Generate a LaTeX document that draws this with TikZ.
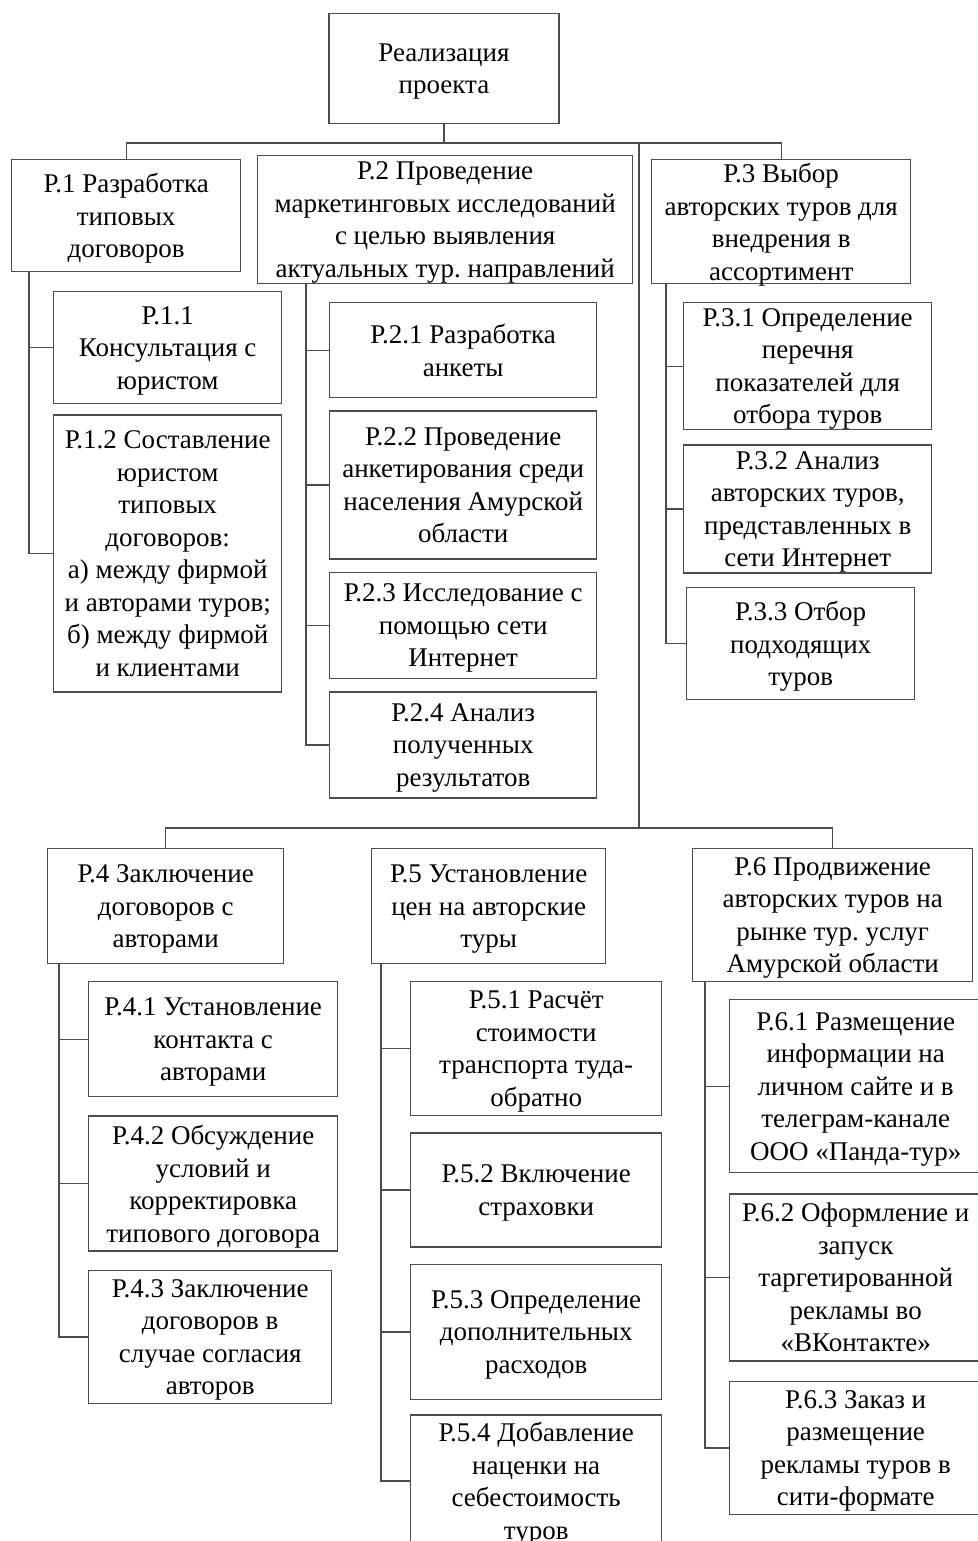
\documentclass[tikz,border=0pt]{standalone}
\usepackage{fontspec}
\setmainfont{Liberation Serif}
\frenchspacing
\usetikzlibrary{positioning}
\tikzset{
    block/.style={
        rectangle,
        draw=black!70,
        line width=1.4pt,
        inner sep=2pt,
        align=center,
        text=black,
        text depth=-2pt,
        font=\fontsize{27pt}{32.5pt}\selectfont
    },
    line/.style={
        draw=black!70,
        line width=1.3pt
    }
}
\begin{document}
\begin{tikzpicture}[x=1pt, y=-1pt]
\useasboundingbox (0,0) rectangle (977,1541);

% upper part
\node (root) [block, minimum width=230pt, minimum height=110pt] at (444,68.5) {Реализация\\проекта};

\node (p1) [block, anchor=north west, minimum width=229pt, minimum height=112pt] at (11,159) {Р.1 Разработка\\типовых\\договоров};
\node (p2) [block, anchor=north west, minimum width=375pt, minimum height=128pt] at (257,155) {Р.2 Проведение\\маркетинговых исследований\\с целью выявления\\актуальных тур. направлений};
\node (p3) [block, anchor=north west, minimum width=259pt, minimum height=124pt] at (651,159) {Р.3 Выбор\\авторских туров для\\внедрения в\\ассортимент};

\node (p11) [block, anchor=north west, minimum width=228pt, minimum height=112pt] at (53,291) {Р.1.1\\Консультация с\\юристом};
\node (p12) [block, below=10pt of p11, minimum width=228pt, minimum height=277pt] {Р.1.2 Составление\\юристом\\типовых\\договоров:\\а) между фирмой\\и авторами туров;\\б) между фирмой\\и клиентами};

\node (p21) [block, anchor=north west, minimum width=267pt, minimum height=95pt] at (329,302) {Р.2.1 Разработка\\анкеты};
\node (p22) [block, below=12pt of p21, minimum width=267pt, minimum height=148pt] {Р.2.2 Проведение\\анкетирования среди\\населения Амурской\\области};
\node (p23) [block, below=12pt of p22, minimum width=267pt, minimum height=106pt] {Р.2.3 Исследование с\\помощью сети\\Интернет};
\node (p24) [block, below=12pt of p23, minimum width=267pt, minimum height=106pt] {Р.2.4 Анализ\\полученных\\результатов};

\node (p31) [block, anchor=north west, minimum width=248pt, minimum height=127pt] at (683,302) {Р.3.1 Определение\\перечня\\показателей для\\отбора туров};
\node (p32) [block, below=14pt of p31, minimum width=248pt, minimum height=128pt] {Р.3.2 Анализ\\авторских туров,\\представленных в\\сети Интернет};
\node (p33) [block, below=13pt of p32.south west, anchor=north west, xshift=3pt, minimum width=228pt, minimum height=112pt] {Р.3.3 Отбор\\подходящих\\туров};

% lower part
\node (p4) [block, anchor=north west, minimum width=236pt, minimum height=115pt] at (47,848) {Р.4 Заключение\\договоров с\\авторами};
\node (p5) [block, anchor=north west, minimum width=234pt, minimum height=115pt] at (371,848) {Р.5 Установление\\цен на авторские\\туры};
\node (p6) [block, anchor=north west, minimum width=280pt, minimum height=133pt] at (692,848) {Р.6 Продвижение\\авторских туров на\\рынке тур. услуг\\Амурской области};

\node (p41) [block, anchor=north west, minimum width=249pt, minimum height=115pt] at (88,981) {Р.4.1 Установление\\контакта с\\авторами};
\node (p42) [block, below=18pt of p41, minimum width=249pt, minimum height=135pt] {Р.4.2 Обсуждение\\условий и\\корректировка\\типового договора};
\node (p43) [block, below=18pt of p42.south west, anchor=north west, minimum width=243pt, minimum height=133pt] {Р.4.3 Заключение\\договоров в\\случае согласия\\авторов};

\node (p51) [block, anchor=north west, minimum width=251pt, minimum height=134pt] at (410,981) {Р.5.1 Расчёт\\стоимости\\транспорта туда-\\обратно};
\node (p52) [block, below=16pt of p51, minimum width=251pt, minimum height=114pt] {Р.5.2 Включение\\страховки};
\node (p53) [block, below=16pt of p52, minimum width=251pt, minimum height=135pt] {Р.5.3 Определение\\дополнительных\\расходов};
\node (p54) [block, below=14pt of p53, minimum width=251pt, minimum height=132pt] {Р.5.4 Добавление\\наценки на\\себестоимость\\туров};

\node (p61) [block, anchor=north west, minimum width=252pt, minimum height=173pt] at (729,999) {Р.6.1 Размещение\\информации на\\личном сайте и в\\телеграм-канале\\ООО «Панда-тур»};
\node (p62) [block, below=20pt of p61, minimum width=252pt, minimum height=167pt] {Р.6.2 Оформление и\\запуск\\таргетированной\\рекламы во\\«ВКонтакте»};
\node (p63) [block, below=19pt of p62, minimum width=252pt, minimum height=133pt] {Р.6.3 Заказ и\\размещение\\рекламы туров в\\сити-формате};

% buses
\coordinate (bus1) at (444,143);
\coordinate (bus2) at (639,828);
\draw [line] (root) -- (bus1);
\draw [line] (p1.north) |- (bus1) -| (p3.north);
\draw [line] (bus1 -| bus2) -- (bus2);
\draw [line] (p4.north) |- (bus2) -| (p6.north);

% spines
\foreach \c in {p11,p12} \draw [line] ([xshift=18pt]p1.south west) |- (\c.west);
\foreach \c in {p21,p22,p23,p24} \draw [line] ([xshift=49pt]p2.south west) |- (\c.west);
\foreach \c in {p31,p32,p33} \draw [line] ([xshift=15pt]p3.south west) |- (\c.west);
\foreach \c in {p41,p42,p43} \draw [line] ([xshift=12pt]p4.south west) |- (\c.west);
\foreach \c in {p51,p52,p53,p54} \draw [line] ([xshift=10pt]p5.south west) |- (\c.west);
\foreach \c in {p61,p62,p63} \draw [line] ([xshift=13pt]p6.south west) |- (\c.west);

\end{tikzpicture}
\end{document}
